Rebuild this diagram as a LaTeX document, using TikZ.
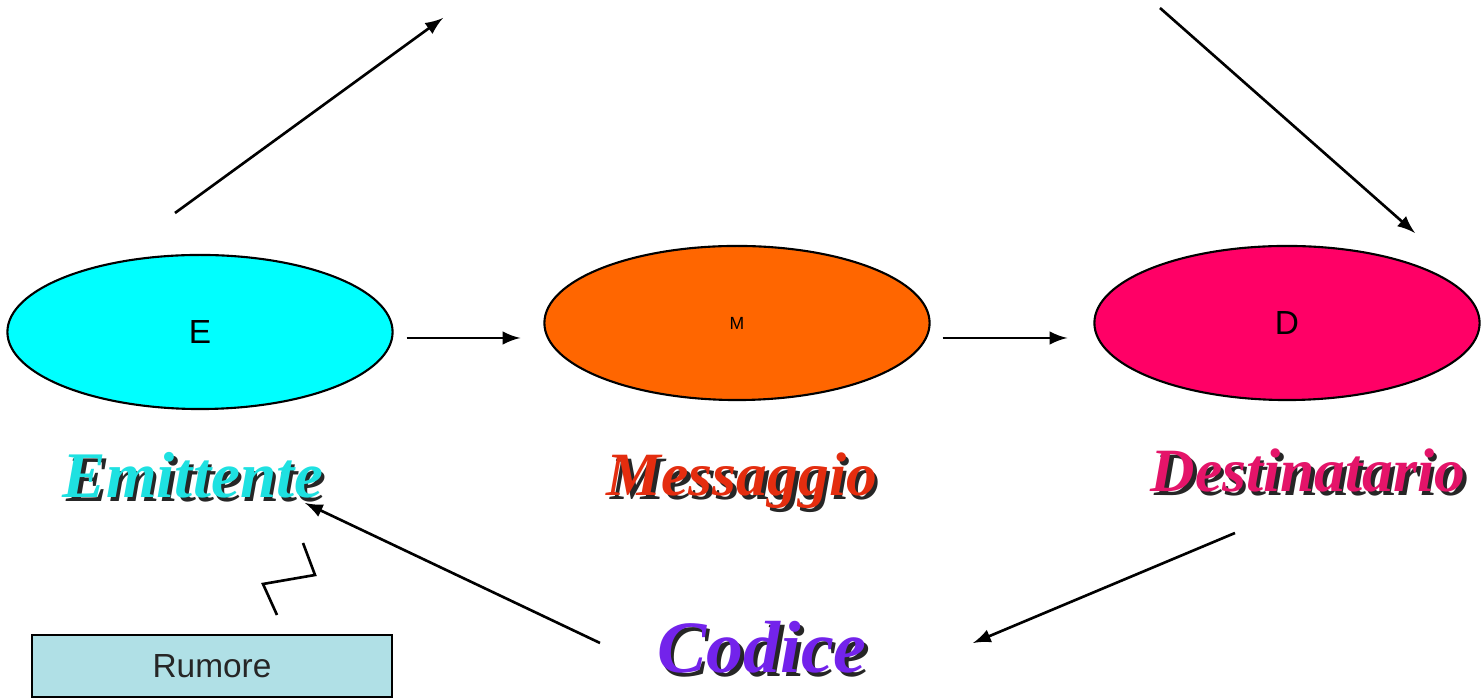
\documentclass[tikz,border=0pt]{standalone}
\usepackage{fontspec}
\setmainfont{Liberation Serif}
\setsansfont{Liberation Sans}
\usetikzlibrary{shapes.geometric}
\definecolor{ciano}{RGB}{0,255,255}
\definecolor{arancio}{RGB}{255,102,0}
\definecolor{fucsia}{RGB}{255,0,102}
\definecolor{celeste}{RGB}{176,224,230}
\definecolor{emcol}{RGB}{30,225,225}
\definecolor{mecol}{RGB}{228,45,15}
\definecolor{decol}{RGB}{228,20,105}
\definecolor{cocol}{RGB}{115,35,235}
\newcommand{\ombreggiato}[2]{\rlap{\kern1pt\raisebox{-1pt}{\color{black!85}#2}}{\color{#1}#2}}

\begin{document}
\begin{tikzpicture}[x=0.01cm,y=-0.01cm]
\tikzset{fase/.style={ellipse,draw,line width=0.6pt,inner sep=0pt,minimum width=3.85cm,minimum height=1.54cm,font=\sffamily\fontsize{9.5}{9.5}\selectfont},
  freccia/.style={line width=0.75pt,->,>=latex},
  scritta/.style={anchor=base,font=\bfseries\itshape\fontsize{17.5}{17.5}\selectfont}}
\useasboundingbox (0,0) rectangle (1481,698);
\node[fase,fill=ciano] (E) at (200,332) {\raisebox{-1pt}{E}};
\node[fase,fill=arancio] (M) at (737,323) {\fontsize{5}{5}\selectfont M};
\node[fase,fill=fucsia] (D) at (1287,323) {D};
\node[scritta,font=\bfseries\itshape\fontsize{18.5}{18.5}\selectfont] (emit) at (193,498) {\ombreggiato{emcol}{Emittente}};
\node[scritta] (mess) at (742,496) {\ombreggiato{mecol}{Messaggio}};
\node[scritta] (dest) at (1308,492) {\ombreggiato{decol}{Destinatario}};
\node[scritta,font=\bfseries\itshape\fontsize{21}{21}\selectfont] (cod) at (762,673) {\ombreggiato{cocol}{Codice}};
\node[draw,fill=celeste,line width=0.6pt,minimum width=3.6cm,minimum height=0.62cm,font=\sffamily\fontsize{9.5}{9.5}\selectfont,text=black!85] (rum) at (212,666) {Rumore};
\coordinate (a1) at (175,213);
\coordinate (a2) at (443,18);
\coordinate (b1) at (1160,8);
\coordinate (b2) at (1415,233);
\coordinate (c1) at (600,643);
\coordinate (c2) at (305,503);
\coordinate (d1) at (1235,533);
\coordinate (d2) at (973,643);
\draw[freccia] (a1)--(a2);
\draw[freccia] (b1)--(b2);
\draw[freccia] ([shift={(13,6)}]E.east)--([shift={(-23,15)}]M.west);
\draw[freccia] ([shift={(12,15)}]M.east)--([shift={(-26,15)}]D.west);
\draw[freccia] (c1)--(c2);
\draw[freccia] (d1)--(d2);
% fulmine del rumore
\draw[line width=0.75pt] (303,543)--(315,575)--(263,584)--(277,615);
\end{tikzpicture}
\end{document}
